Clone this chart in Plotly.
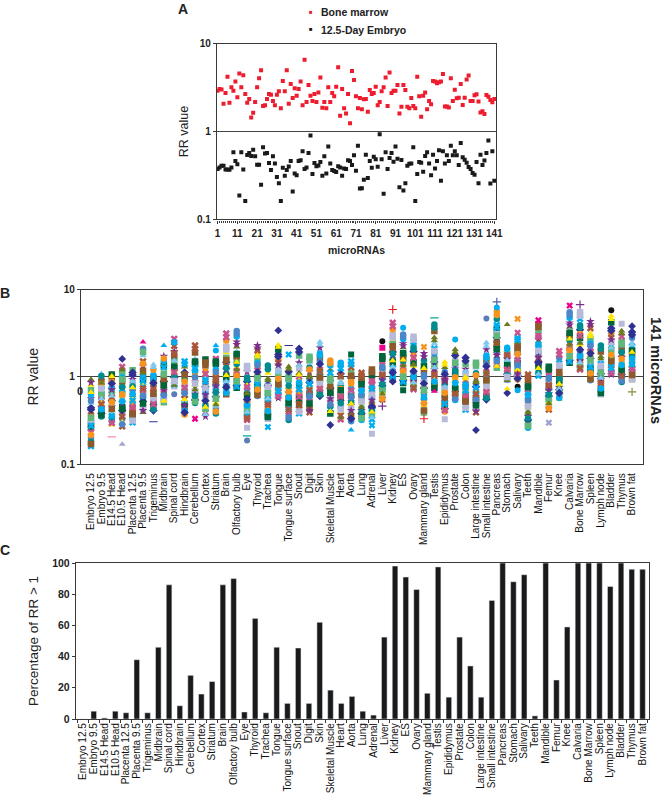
import plotly.graph_objects as go

W, H = 667, 796
FONT = "Liberation Sans"
INK = "#222222"
AXIS = "#3a3a3a"

# panel A: RR for each of the 141 microRNAs
mirna_ids = list(range(1, 142))
bone_marrow = [
    2.92, 3.05, 3.0, 2.07, 2.75, 4.19, 2.13, 3.19, 2.92, 3.7, 2.45, 4.57, 3.19, 4.38, 2.68, 2.13, 2.35, 1.44, 1.64, 2.17,
    3.19, 4.05, 4.99, 1.95, 1.99, 2.35, 2.68, 2.63, 2.23, 1.99, 2.63, 2.87, 1.84, 3.77, 2.87, 4.99, 2.07, 3.48, 2.41, 3.11,
    2.56, 3.05, 3.7, 1.99, 6.56, 2.17, 3.39, 2.56, 2.23, 2.68, 2.17, 2.79, 4.11, 1.87, 2.17, 1.84, 3.19, 2.17, 2.75, 2.52,
    3.24, 5.41, 1.51, 3.05, 1.84, 1.6, 2.68, 1.24, 4.9, 3.87, 2.52, 1.84, 2.41, 1.79, 2.33, 2.35, 1.68, 2.97, 2.68, 2.75,
    3.24, 1.99, 2.17, 2.87, 3.19, 4.11, 1.95, 4.7, 2.75, 2.92, 2.92, 3.39, 1.6, 1.92, 3.39, 2.97, 1.92, 1.84, 2.41, 1.95,
    1.84, 4.19, 2.52, 1.47, 2.56, 2.79, 1.79, 2.23, 2.04, 3.77, 3.7, 3.54, 3.63, 3.7, 4.53, 1.93, 1.93, 1.88, 4.04, 2.23,
    2.99, 2.39, 2.42, 3.48, 2.0, 2.42, 3.91, 4.34, 2.23, 2.23, 2.58, 2.65, 2.19, 1.65, 1.7, 1.58, 2.6, 2.49, 2.28, 2.15, 2.35,
]
embryo_125 = [
    .375, .39, .408, .408, .37, .37, .367, .39, .58, .46, .425, .187, .58, .37, .162, .54, .57, .527, .62, .522,
    .419, .419, .247, .66, .56, .57, .437, .364, .522, .433, .303, .258, .162, .387, .313, .364, .4, .46, .207, .333,
    .318, .46, .47, .595, .375, .39, .57, .9, .328, .437, .403, .41, .45, .313, .522, .333, .673, .433, .364, .354,
    .345, .403, .39, .313, .38, .375, .47, .46, .415, .535, .357, .69, .224, .226, .282, .545, .295, .46, .387, .515,
    .482, .398, .93, .482, .195, .58, .375, .5, .57, .452, .673, .49, .232, .474, .213, .258, .408, .43, .433, .66,
    .162, .328, .45, .44, .348, .527, .58, .433, .318, .545, .38, .46, .61, .275, .595, .433, .535, .46, .69, .535,
    .595, .535, .415, .74, .51, .476, .44, .395, .375, .336, .322, .45, .258, .545, .415, .466, .57, .79, .255, .595, .275,
]

tissues = [
    "Embryo 12.5", "Embryo 9.5", "E14.5 Head", "E10.5 Head", "Placenta 12.5", "Placenta 9.5", "Trigeminus", "Midbrain",
    "Spinal cord", "Hindbrain", "Cerebellum", "Cortex", "Striatum", "Brain", "Olfactory bulb", "Eye", "Thyroid", "Trachea",
    "Tongue", "Tongue surface", "Snout", "Digit", "Skin", "Skeletal Muscle", "Heart", "Aorta", "Lung", "Adrenal", "Liver",
    "Kidney", "ES", "Ovary", "Mammary gland", "Testis", "Epididymus", "Prostate", "Colon", "Large intestine",
    "Small intestine", "Pancreas", "Stomach", "Salivary", "Teeth", "Mandible", "Femur", "Knee", "Calvaria", "Bone Marrow",
    "Spleen", "Lymph node", "Bladder", "Thymus", "Brown fat",
]

# panel B: RR read down each tissue column (a sample of the overlapping points)
rr_embryo125 = [.44, .29, .8, .16, .56, .36, .2, .7, .26, .93, .4, .18, .62, .32, .5, .23, .42, .17, .66, .275, .86, .215, .53, .34]
rr_embryo95 = [.62, .41, .96, .54, .35, .76, .47, 1.08, .58, .38, .88, .5, .71, .44, .82, .66, .64, .365, .85, .485, 1.02, .425, .735, .56]
rr_e145head = [.37, .8, .53, .96, .28, .63, .45, .87, .31, .68, 1.06, .41, .58, .34, .74, .49, .605, .295, .835, .43, 1.01, .355, .71, .51]
rr_e105head = [.6, .33, 1.12, .45, .8, .27, .66, .98, .37, .55, 1.3, .41, .88, .3, .72, .5, .63, .285, .93, .43, 1.21, .35, .76, .525]
rr_placenta125 = [.47, .85, .33, .66, 1.05, .39, .56, .3, .93, .51, .72, 1.19, .36, .61, .43, .78, .635, .315, .89, .45, 1.12, .375, .75, .535]
rr_placenta95 = [.77, 1.32, .47, 2.1, .63, .94, .39, 1.5, .57, 1.04, .43, 1.75, .7, .52, 1.17, .85, .895, .41, 1.41, .6, 1.92, .495, 1.1, .735]
rr_trigeminus = [.66, .44, 1.05, .54, 1.37, .76, .41, .96, .58, .88, .47, 1.2, .62, .82, .5, .71, .735, .425, 1.0, .56, 1.28, .485, .85, .64]
rr_midbrain = [.82, 1.22, .59, 1.72, .67, 1.03, .51, 1.35, .77, .95, .63, 1.52, .55, 1.12, .72, .88, .915, .53, 1.28, .695, 1.62, .61, 1.07, .795]
rr_spinal = [1.25, .87, 2.25, 1.04, 1.6, .78, 1.35, 2.72, .98, 1.75, 1.1, .82, 1.95, 1.17, .92, 1.47, 1.3, .8, 1.85, 1.01, 2.48, .895, 1.53, 1.13]
rr_hindbrain = [.67, 1.12, .45, .85, 1.5, .57, .37, 1.0, .72, .49, 1.3, .62, .92, .41, .78, .53, .75, .39, 1.06, .55, 1.4, .47, .885, .645]
rr_cerebellum = [.87, .58, 1.4, .74, 2.28, .5, 1.13, .68, 1.6, .95, .54, 1.9, .8, 1.25, .63, 1.03, .99, .52, 1.5, .71, 2.08, .605, 1.19, .835]
rr_cortex = [.6, 1.02, .39, .77, 1.35, .51, .92, .35, 1.15, .65, .43, 1.58, .55, .84, .47, .71, .74, .37, 1.08, .53, 1.46, .45, .88, .625]
rr_striatum = [.64, 1.07, .42, .89, 1.4, .54, .97, .38, 1.2, .69, .46, 1.6, .59, .82, .5, .75, .785, .4, 1.13, .565, 1.5, .48, .93, .665]
rr_brain = [1.09, .73, 2.2, .92, 3.13, 1.47, .63, 1.9, .85, 1.2, 2.6, .79, 1.65, 1.0, .68, 1.32, 1.26, .655, 2.05, .885, 2.85, .76, 1.56, 1.04]
rr_olfactory = [1.27, .86, 2.5, 1.07, 3.34, 1.55, .75, 2.2, .99, 1.4, 2.9, .92, 1.93, 1.16, .8, 1.72, 1.47, .775, 2.35, 1.03, 3.1, .89, 1.82, 1.21]
rr_eye = [.57, .35, .98, .45, 1.33, .67, .32, .88, .49, .8, .38, 1.14, .53, .73, .41, .62, .645, .335, .93, .47, 1.23, .395, .765, .55]
rr_thyroid = [1.0, .69, 1.8, .85, 2.28, 1.3, .6, 1.6, .79, 1.08, 2.0, .74, 1.43, .92, .64, 1.18, 1.13, .62, 1.7, .82, 2.14, .715, 1.36, .96]
rr_trachea = [.58, .36, .95, .46, 1.35, .68, .33, .87, .5, .8, .39, 1.1, .54, .74, .42, .63, .655, .345, .91, .48, 1.22, .405, .77, .56]
rr_tongue = [.99, .67, 1.8, .84, 2.3, 1.3, .57, 1.6, .78, 1.08, 2.05, .72, 1.44, .91, .62, 1.18, 1.13, .595, 1.7, .81, 2.18, .695, 1.37, .95]
rr_tongue_surface = [.6, .36, 1.0, .48, 1.3, .7, .32, .9, .52, .82, .4, 1.14, .56, .76, .44, .65, .675, .34, .95, .5, 1.22, .42, .79, .58]
rr_snout = [.75, 1.25, .46, 1.0, 2.1, .62, .9, .38, 1.45, .68, .51, 1.75, .56, 1.1, .42, .82, .86, .4, 1.35, .59, 1.92, .485, 1.05, .715]
rr_digit = [.73, 1.14, .47, .94, 1.7, .62, 1.03, .39, 1.28, .67, .52, 1.45, .57, .86, .43, .79, .825, .41, 1.21, .595, 1.57, .495, .985, .7]
rr_skin = [1.02, .7, 1.85, .87, 2.5, 1.33, .6, 1.65, .81, 1.11, 2.15, .75, 1.48, .94, .65, 1.21, 1.16, .625, 1.75, .84, 2.32, .725, 1.4, .98]
rr_skeletal = [.63, 1.05, .42, .87, 1.54, .54, .95, .38, 1.18, .68, .46, 1.35, .58, .8, .5, .74, .77, .4, 1.11, .56, 1.44, .48, .91, .655]
rr_heart = [.57, .97, .36, .8, 1.45, .48, .88, .325, 1.08, .62, .4, 1.25, .52, .73, .44, .67, .7, .34, 1.02, .5, 1.35, .42, .84, .595]
rr_aorta = [.56, .97, .35, .8, 1.5, .47, .88, .31, 1.1, .61, .39, 1.28, .51, .73, .43, .67, .7, .33, 1.03, .49, 1.39, .41, .84, .585]
rr_lung = [.54, .35, .86, .44, 1.11, .62, .32, .78, .47, .72, .38, .97, .5, .67, .41, .58, .6, .335, .82, .455, 1.04, .395, .695, .52]
rr_adrenal = [.56, .35, .92, .44, 1.21, .65, .325, .83, .48, .76, .38, 1.05, .52, .7, .41, .6, .625, .34, .875, .46, 1.13, .395, .73, .54]
rr_liver = [.84, .58, 1.32, .7, 1.72, .95, .55, 1.2, .74, 1.1, .62, 1.5, .79, 1.02, .66, .89, .92, .565, 1.26, .72, 1.61, .64, 1.06, .815]
rr_kidney = [1.6, 1.08, 3.0, 1.35, 4.16, 1.92, .93, 2.65, 1.25, 1.75, 3.5, 1.16, 2.35, 1.47, 1.0, 2.12, 1.83, .965, 2.82, 1.3, 3.8, 1.12, 2.23, 1.53]
rr_es = [1.39, .97, 2.4, 1.2, 3.05, 1.78, .85, 2.15, 1.12, 1.5, 2.7, 1.04, 1.95, 1.29, .91, 1.63, 1.56, .88, 2.27, 1.16, 2.87, 1.0, 1.86, 1.34]
rr_ovary = [1.21, .83, 2.2, 1.03, 2.87, 1.58, .72, 1.95, .96, 1.32, 2.5, .89, 1.75, 1.12, .77, 1.44, 1.38, .745, 2.07, .995, 2.68, .86, 1.66, 1.16]
rr_mammary = [.74, 1.17, .47, .95, 1.85, .62, 1.05, .39, 1.33, .68, .52, 1.55, .57, .87, .43, .8, .835, .41, 1.25, .595, 1.7, .495, 1.0, .71]
rr_testis = [1.33, .85, 2.8, 1.1, 3.97, 1.85, .72, 2.4, 1.0, 1.48, 3.35, .92, 2.1, 1.21, .78, 1.65, 1.56, .75, 2.6, 1.05, 3.65, .885, 1.97, 1.27]
rr_epididymus = [.63, 1.02, .43, .86, 1.47, .55, .93, .4, 1.13, .68, .47, 1.28, .51, .79, .59, .73, .76, .415, 1.07, .57, 1.37, .49, .895, .655]
rr_prostate = [.88, 1.37, .62, 1.12, 2.05, .71, 1.03, .54, 1.53, .76, .58, 1.75, .66, .95, .82, 1.23, .99, .56, 1.45, .735, 1.9, .64, 1.17, .85]
rr_colon = [.67, 1.09, .46, .91, 1.65, .58, .99, .42, 1.22, .72, .5, 1.4, .54, .84, .62, .78, .81, .44, 1.15, .6, 1.52, .52, .95, .695]
rr_large_int = [.61, .99, .42, .83, 1.45, .53, .9, .39, 1.1, .66, .45, 1.26, .49, .77, .57, .71, .74, .405, 1.04, .55, 1.35, .47, .865, .635]
rr_small_int = [.95, .64, 1.75, .8, 2.45, 1.25, .55, 1.55, .74, 1.03, 2.05, .69, 1.4, .87, .59, 1.13, 1.08, .57, 1.65, .77, 2.25, .665, 1.32, .91]
rr_pancreas = [2.15, 1.47, 3.9, 1.83, 5.6, 2.55, 1.27, 3.45, 1.7, 2.35, 4.6, 1.58, 3.1, 1.98, 1.37, 2.8, 2.45, 1.32, 3.67, 1.76, 5.1, 1.52, 2.95, 2.06]
rr_stomach = [1.25, .97, 1.85, 1.12, 2.15, 1.5, .89, 1.72, 1.07, 1.32, 2.0, 1.02, 1.6, 1.18, .93, 1.4, 1.36, .91, 1.78, 1.09, 2.07, .995, 1.55, 1.21]
rr_salivary = [1.41, 1.04, 2.25, 1.24, 2.8, 1.75, .93, 2.05, 1.17, 1.51, 2.5, 1.1, 1.9, 1.32, .98, 1.62, 1.56, .955, 2.15, 1.2, 2.65, 1.07, 1.82, 1.36]
rr_teeth = [.47, .29, .8, .38, 1.06, .55, .26, .72, .41, .65, .32, .92, .44, .6, .35, .51, .53, .275, .76, .395, .99, .335, .625, .455]
rr_mandible = [1.75, 1.2, 3.0, 1.5, 4.0, 2.06, 1.03, 2.7, 1.4, 1.9, 3.45, 1.3, 2.45, 1.62, 1.11, 2.25, 1.98, 1.07, 2.85, 1.45, 3.72, 1.25, 2.35, 1.68]
rr_femur = [.64, .45, 1.0, .54, 1.3, .72, .42, .9, .57, .83, .48, 1.13, .6, .77, .51, .68, .7, .435, .95, .555, 1.21, .495, .8, .62]
rr_knee = [.85, 1.28, .63, 1.06, 1.97, .71, .98, .55, 1.42, .75, .59, 1.65, .67, .91, .8, 1.16, .945, .57, 1.35, .73, 1.8, .65, 1.11, .825]
rr_calvaria = [2.4, 1.66, 4.15, 2.07, 5.5, 2.82, 1.45, 3.7, 1.92, 2.6, 4.75, 1.78, 3.35, 2.23, 1.55, 3.05, 2.71, 1.5, 3.92, 2.0, 5.1, 1.72, 3.2, 2.32]
rr_bone_marrow = [2.13, 1.4, 3.9, 1.8, 5.5, 2.55, 1.21, 3.45, 1.65, 2.32, 4.6, 1.52, 3.1, 1.96, 1.3, 2.8, 2.43, 1.25, 3.67, 1.72, 5.0, 1.46, 2.95, 2.04]
rr_spleen = [1.62, 1.06, 3.1, 1.36, 4.3, 1.95, .91, 2.7, 1.25, 1.78, 3.6, 1.15, 2.4, 1.48, .98, 2.15, 1.86, .945, 2.9, 1.3, 3.95, 1.1, 2.27, 1.55]
rr_lymph = [1.0, .71, 1.7, .87, 2.28, 1.27, .63, 1.53, .81, 1.08, 1.95, .76, 1.39, .93, .67, 1.17, 1.12, .65, 1.61, .84, 2.1, .735, 1.33, .965]
rr_bladder = [1.86, 1.23, 3.6, 1.56, 4.95, 2.25, 1.06, 3.15, 1.44, 2.04, 4.2, 1.33, 2.8, 1.7, 1.14, 2.5, 2.14, 1.1, 3.37, 1.5, 4.55, 1.28, 2.65, 1.78]
rr_thymus = [1.41, .99, 2.5, 1.22, 3.35, 1.82, .87, 2.2, 1.14, 1.53, 2.9, 1.06, 2.0, 1.31, .93, 1.66, 1.6, .9, 2.35, 1.18, 3.12, 1.02, 1.91, 1.36]
rr_brown_fat = [1.44, 1.02, 2.45, 1.25, 3.25, 1.83, .9, 2.2, 1.17, 1.55, 2.8, 1.09, 2.0, 1.34, .96, 1.68, 1.61, .93, 2.32, 1.21, 3.02, 1.05, 1.91, 1.39]

rr_columns = [
    rr_embryo125, rr_embryo95, rr_e145head, rr_e105head, rr_placenta125, rr_placenta95, rr_trigeminus, rr_midbrain,
    rr_spinal, rr_hindbrain, rr_cerebellum, rr_cortex, rr_striatum, rr_brain, rr_olfactory, rr_eye, rr_thyroid, rr_trachea,
    rr_tongue, rr_tongue_surface, rr_snout, rr_digit, rr_skin, rr_skeletal, rr_heart, rr_aorta, rr_lung, rr_adrenal, rr_liver,
    rr_kidney, rr_es, rr_ovary, rr_mammary, rr_testis, rr_epididymus, rr_prostate, rr_colon, rr_large_int,
    rr_small_int, rr_pancreas, rr_stomach, rr_salivary, rr_teeth, rr_mandible, rr_femur, rr_knee, rr_calvaria, rr_bone_marrow,
    rr_spleen, rr_lymph, rr_bladder, rr_thymus, rr_brown_fat,
]

# isolated points above and below the columns, marker is an index into MARKS
outlier_tissue = [
    "E14.5 Head", "E10.5 Head", "E10.5 Head", "Placenta 9.5", "Trigeminus", "Midbrain", "Spinal cord", "Cerebellum",
    "Striatum", "Striatum", "Eye", "Eye", "Eye", "Trachea", "Tongue", "Tongue surface", "Tongue surface", "Skeletal Muscle",
    "Aorta", "Aorta", "Adrenal", "Adrenal", "Liver", "Liver", "Liver", "Kidney", "Kidney", "ES", "ES", "Mammary gland",
    "Mammary gland", "Testis", "Testis", "Epididymus", "Prostate", "Large intestine", "Small intestine", "Pancreas",
    "Pancreas", "Stomach", "Stomach", "Stomach", "Salivary", "Salivary", "Salivary", "Salivary", "Mandible", "Femur",
    "Calvaria", "Bone Marrow", "Bladder", "Thymus", "Brown fat", "Brown fat",
]
outlier_rr = [
    .205, 1.6, .168, 2.5, .305, 2.28, .63, .33,
    2.28, 2.0, .186, .21, .26, .265, 3.4, 2.28, 1.8, .28,
    1.8, .245, .222, .277, 2.56, 2.15, .46, 5.9, .88, 3.64, .7, 2.2,
    .33, 4.74, .68, .325, 2.67, .245, 4.65, 7.2,
    6.2, 3.97, .65, .73, 4.6, 3.2, .77, .7, 4.45, .297,
    6.55, 6.7, 5.8, 4.05, 3.8, .67,
]
outlier_mark = [
    17, 0, 16, 22, 18, 23, 28, 19,
    23, 12, 28, 25, 13, 3, 0, 18, 3, 0,
    8, 23, 13, 3, 21, 31, 29, 20, 0, 12, 8, 27,
    20, 25, 22, 13, 12, 0, 28, 30,
    12, 9, 0, 2, 27, 15, 21, 12, 19, 24,
    19, 29, 21, 13, 0, 26,
]

# panel C: share of microRNAs with RR above 1
pct_above_one = [
    0, 5, .7, 5, 4, 38, 4, 46, 86, 8.5, 28, 16, 24, 86, 90, 4.5, 64.5, 4, 46, 10, 45.5, 10, 62, 18.5, 10, 14.5, 5, 2.5,
    52.5, 98, 91, 83, 16.5, 97.5, 14, 52.5, 34, 14, 76, 100, 88, 92.5, 2, 100, 25, 59, 100, 100, 100, 85, 100, 96, 96,
]

# symbol, colour; the first 16 rotate through the columns, the rest are for outliers
MARKS = [
    ("diamond", "#2E3192"), ("square", "#8E5A2B"), ("triangle-up", "#FFE600"), ("x", "#00AEEF"),
    ("star", "#7B2D8B"), ("circle", "#F7941D"), ("circle", "#4A86C8"), ("square", "#5FB87A"),
    ("square", "#00653A"), ("triangle-up", "#6A7B1F"), ("x", "#A9573A"), ("circle", "#008C8C"),
    ("circle", "#00AEEF"), ("square", "#B7BBD9"), ("triangle-up", "#7FC8EE"), ("x", "#C8528D"),
    ("triangle-up", "#A0A6D0"), ("line-ew-open", "#F48FA0"), ("line-ew-open", "#2E3192"), ("x", "#EC008C"),
    ("cross-thin-open", "#ED1C24"), ("circle", "#111111"), ("triangle-up", "#EC008C"), ("triangle-up", "#00AEEF"),
    ("x", "#9FA3D0"), ("line-ew-open", "#00A99D"), ("cross-thin-open", "#8C8C3A"), ("x", "#F7941D"),
    ("circle", "#5B7DB8"), ("cross-thin-open", "#7B2D8B"), ("cross-thin-open", "#4A5FB0"), ("square", "#EC008C"),
]


def dom_x(left, right):
    return [left / W, right / W]


def dom_y(top, bottom):
    return [1 - bottom / H, 1 - top / H]


def mark_style(idx, size):
    symbol = [MARKS[i][0] for i in idx]
    colour = [MARKS[i][1] for i in idx]
    width = [1.2 if s.endswith("-open") else 0 for s in symbol]
    return dict(symbol=symbol, color=colour, size=size, line=dict(color=colour, width=width))


fig = go.Figure()

fig.add_trace(go.Scatter(x=mirna_ids, y=bone_marrow, mode="markers", name="Bone marrow",
                         marker=dict(symbol="square", color="#ED1C2E", size=4), xaxis="x", yaxis="y"))
fig.add_trace(go.Scatter(x=mirna_ids, y=embryo_125, mode="markers", name="12.5-Day Embryo",
                         marker=dict(symbol="square", color="#1A1A1A", size=4), xaxis="x", yaxis="y"))

# one trace per position in the columns, the marks rotate so no colour bands form
for j in range(len(rr_embryo125)):
    fig.add_trace(go.Scatter(x=tissues, y=[col[j] for col in rr_columns], mode="markers",
                             marker=mark_style([(j + 7 * t) % 16 for t in range(len(tissues))], 6.5),
                             xaxis="x2", yaxis="y2"))
fig.add_trace(go.Scatter(x=outlier_tissue, y=outlier_rr, mode="markers",
                         marker=mark_style(outlier_mark, 6), xaxis="x2", yaxis="y2"))

fig.add_trace(go.Bar(x=tissues, y=pct_above_one, marker_color="#1A1A1A", width=0.52, xaxis="x3", yaxis="y3"))

line = dict(showline=True, linecolor=AXIS, linewidth=1.4, mirror=True, zeroline=False, automargin=False)
bold_ticks = dict(family=FONT, size=10, color=INK, weight=700)
label_ticks = dict(family=FONT, size=10, color="#111111")
log_y = dict(type="log", range=[-1, 1], tickvals=[.1, 1, 10], ticktext=["0.1", "1", "10"], ticks="outside", ticklen=3,
             tickcolor=AXIS, showgrid=True, gridcolor="#444444", gridwidth=1, tickfont=bold_ticks, **line)

fig.update_layout(
    width=W, height=H, showlegend=False, paper_bgcolor="white", plot_bgcolor="white",
    margin=dict(l=0, r=0, t=0, b=0), font=dict(family=FONT, color=INK),
    xaxis=dict(domain=dom_x(217, 496), anchor="y", range=[0.7, 141.85], tick0=1, dtick=10, ticks="outside", ticklen=3,
               tickcolor=AXIS, showgrid=False, tickfont=bold_ticks, ticklabelstandoff=1,
               minor=dict(ticks="outside", dtick=1, tick0=1, ticklen=2, tickcolor=AXIS),
               title=dict(text="microRNAs", font=dict(family=FONT, size=10.5, color=INK, weight=700), standoff=9), **line),
    yaxis=dict(domain=dom_y(43.7, 219.3), anchor="x",
               title=dict(text="RR value", font=dict(family=FONT, size=12.5, color=INK), standoff=5), **log_y),
    xaxis2=dict(domain=dom_x(81, 643), anchor="y2", type="category", categoryorder="array", categoryarray=tissues,
                range=[-0.96, 53.05], tickmode="array", tickvals=tissues, ticktext=tissues, tickangle=-90, ticks="",
                showgrid=False, tickfont=label_ticks, ticklabelstandoff=4, **line),
    yaxis2=dict(domain=dom_y(289.5, 464), anchor="x2",
                title=dict(text="RR value", font=dict(family=FONT, size=14, color=INK), standoff=18), **log_y),
    xaxis3=dict(domain=dom_x(76, 649), anchor="y3", type="category", categoryorder="array", categoryarray=tissues,
                range=[-0.65, 52.6], tickmode="array", tickvals=tissues, ticktext=tissues, tickangle=-90, ticks="outside",
                tickson="boundaries", ticklen=3, tickcolor=AXIS, showgrid=False, tickfont=label_ticks, ticklabelstandoff=-1, **line),
    yaxis3=dict(domain=dom_y(563, 719), anchor="x3", range=[0, 100], dtick=20, ticks="outside", ticklen=3, tickcolor=AXIS,
                showgrid=False, tickfont=dict(family=FONT, size=10.5, color=INK, weight=700),
                title=dict(text="Percentage of RR > 1", font=dict(family=FONT, size=13.5, color=INK), standoff=10), **line),
)


def note(text, px, py, size=11, bold=False, angle=0, color=INK, anchor="center"):
    fig.add_annotation(text=text, x=px / W, y=1 - py / H, xref="paper", yref="paper", showarrow=False, textangle=angle,
                       xanchor=anchor, yanchor="middle",
                       font=dict(family=FONT, size=size, color=color, weight=700 if bold else 400))


note("A", 183, 9, 14, True)
note("B", 5, 293, 14, True)
note("C", 5, 550, 14, True)
note("■", 311, 12, 6, color="#ED1C2E")
note("■", 311, 29, 6, color="#1A1A1A")
note("Bone marrow", 319, 12, 10.5, True, anchor="left")
note("12.5-Day Embryo", 319, 30, 10.5, True, anchor="left")
note("0", 80, 391, 11, True)
note("141 microRNAs", 656, 370, 14.5, True, angle=90)

fig.write_html("out.html", config={"displayModeBar": False}, post_script="document.body.style.margin='0';")
